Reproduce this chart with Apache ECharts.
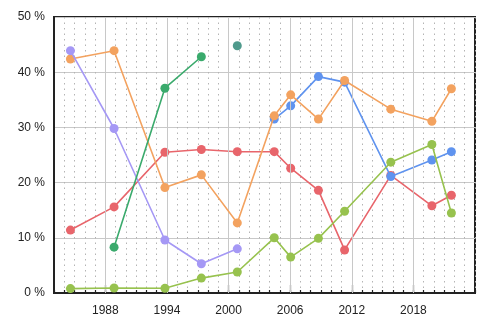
<!DOCTYPE html>
<html>
<head>
<meta charset="utf-8">
<script src="https://cdn.jsdelivr.net/npm/echarts@6/dist/echarts.min.js"></script>
<style>html,body{margin:0;padding:0;background:#fff;}#c{width:500px;height:330px;}</style>
</head>
<body>
<div id="c"></div>
<script>
var years = [1984.6, 1988.85, 1993.8, 1997.35, 2000.85, 2004.45, 2006.05, 2008.75, 2011.3, 2015.8, 2019.8, 2021.7];
var tickYears = [1988, 1994, 2000, 2006, 2012, 2018];
var purple = [43.9, 29.8, 9.6, 5.3, 8.0, null, null, null, null, null, null, null];
var orange = [42.4, 43.9, 19.1, 21.4, 12.7, 32.1, 35.9, 31.5, 38.5, 33.3, 31.1, 37.0];
var red = [11.4, 15.6, 25.5, 26.0, 25.6, 25.6, 22.6, 18.6, 7.8, 21.3, 15.8, 17.7];
var darkGreen = [null, 8.3, 37.1, 42.8, null, null, null, null, null, null, null, null];
var teal = [null, null, null, null, 44.8, null, null, null, null, null, null, null];
var blue = [null, null, null, null, null, 31.5, 33.9, 39.2, 38.2, 21.1, 24.1, 25.6];
var lightGreen = [0.8, 0.9, 0.85, 2.7, 3.8, 10.0, 6.5, 9.9, 14.8, 23.7, 26.9, 14.5];

function pairs(vals) {
  return years.map(function (y, i) { return [y, vals[i]]; });
}
function mk(vals, color, z) {
  return {
    type: 'line',
    data: pairs(vals),
    connectNulls: false,
    symbol: 'circle',
    symbolSize: 9,
    z: z,
    lineStyle: { color: color, width: 1.6 },
    itemStyle: { color: color },
    emphasis: { disabled: true },
    animation: false
  };
}
var chart = echarts.init(document.getElementById('c'), null, { renderer: 'canvas' });
var series = [
  {
    type: 'line', data: [], z: 1, silent: true, animation: false,
    markLine: {
      silent: true, symbol: ['none', 'none'], animation: false,
      label: { show: false },
      lineStyle: { color: '#c8c8c8', type: 'solid', width: 1 },
      data: tickYears.map(function (t) { return { xAxis: t }; })
    }
  },
  mk(red, '#e8656b', 3),
  mk(blue, '#5f93ef', 4),
  mk(orange, '#f3a25f', 5),
  mk(purple, '#a598f5', 6),
  mk(darkGreen, '#3aaa6c', 7),
  mk(teal, '#4f9a8c', 8),
  mk(lightGreen, '#97c24e', 9)
];
chart.setOption({
  animation: false,
  grid: { left: 54, right: 25, top: 17, bottom: 37, show: true, borderColor: '#222', borderWidth: 2, backgroundColor: 'transparent' },
  xAxis: [
    {
      type: 'value', min: 1983, max: 2024, interval: 1,
      axisLine: { show: true, lineStyle: { color: '#222', width: 2 } },
      axisTick: { show: true, inside: true, length: 3, lineStyle: { color: '#222', width: 1.2 } },
      axisLabel: { show: false },
      splitLine: { show: true, lineStyle: { color: '#b4b4b4', type: [1.5, 4], width: 1 } }
    },
    {
      type: 'value', min: 1983, max: 2024, position: 'bottom',
      axisLine: { show: false },
      axisTick: { show: true, inside: true, length: 8, customValues: tickYears, lineStyle: { color: '#222', width: 1.2 } },
      axisLabel: { show: true, customValues: tickYears, color: '#222', fontSize: 12, fontFamily: 'Liberation Sans, Arial, sans-serif', margin: 12, formatter: function (v) { return String(v); } },
      splitLine: { show: false }
    }
  ],
  yAxis: {
    type: 'value', min: 0, max: 50, interval: 10,
    axisLine: { show: true, lineStyle: { color: '#222', width: 2 } },
    axisTick: { show: false },
    axisLabel: { color: '#222', fontSize: 12, fontFamily: 'Liberation Sans, Arial, sans-serif', margin: 9, formatter: '{value} %' },
    splitLine: { show: true, lineStyle: { color: '#c8c8c8', width: 1 } }
  },
  series: series
});
</script>
</body>
</html>
